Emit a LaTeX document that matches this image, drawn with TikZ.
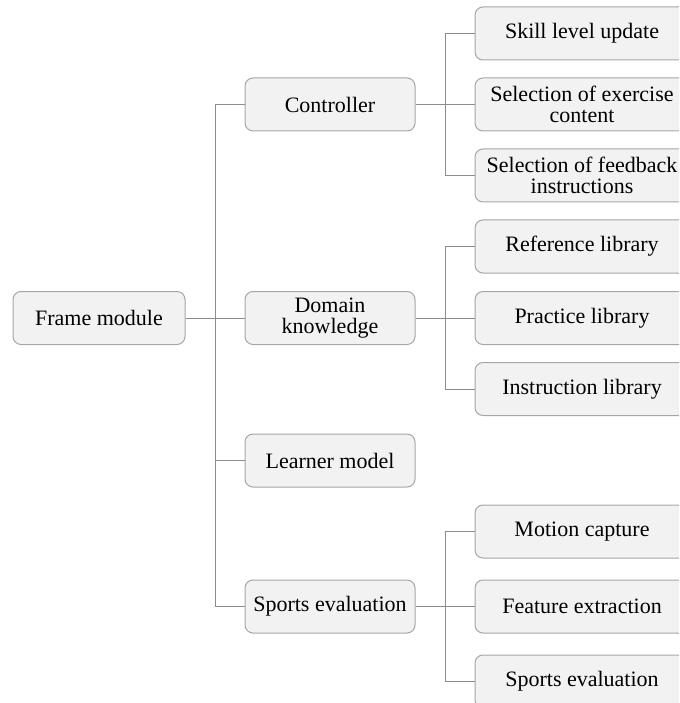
\documentclass[tikz,border=0pt]{standalone}
\usepackage{fontspec}
\setmainfont{Liberation Serif}
\definecolor{boxfill}{HTML}{F2F2F2}
\definecolor{boxline}{HTML}{A6A6A6}
\definecolor{linkline}{HTML}{8C8C8C}

\begin{document}
\begin{tikzpicture}[x=1pt,y=-1pt]
        \useasboundingbox (0,0) rectangle (679,703);
        \clip (0,0) rectangle (679,703);

        \begin{scope}[every node/.style={draw=boxline,fill=boxfill,rounded corners=8pt,line width=1pt,
                    align=center,inner sep=0pt,minimum height=53pt,font=\fontsize{22}{21}\selectfont}]
            \node[minimum width=172pt] (frame) at (99,318) {Frame module};

            \node[minimum width=170pt] (ctrl) at (330,104.5) {Controller};
            \node[minimum width=170pt] (dom) at (330,318) {Domain\\knowledge};
            \node[minimum width=170pt] (learn) at (330,460.5) {Learner model};
            \node[minimum width=170pt] (sport) at (330,606.5) {Sports evaluation};

            \node[minimum width=214pt] (ctrl1) at (582,33.5) {Skill level update};
            \node[minimum width=214pt] (ctrl2) at (582,104.5) {Selection of exercise\\content};
            \node[minimum width=214pt] (ctrl3) at (582,175.5) {Selection of feedback\\instructions};
            \node[minimum width=214pt] (dom1) at (582,246.5) {Reference library};
            \node[minimum width=214pt] (dom2) at (582,318) {Practice library};
            \node[minimum width=214pt] (dom3) at (582,389) {Instruction library};
            \node[minimum width=214pt] (sport1) at (582,531.5) {Motion capture};
            \node[minimum width=214pt] (sport2) at (582,606.5) {Feature extraction};
            \node[minimum width=214pt] (sport3) at (582,681.5) {Sports evaluation};
        \end{scope}

        \begin{scope}[every path/.style={draw=linkline,line width=0.9pt}]
            \path (frame.east) -- ++(30,0) |- (ctrl.west);
            \path (frame.east) -- (dom.west);
            \path (frame.east) -- ++(30,0) |- (learn.west);
            \path (frame.east) -- ++(30,0) |- (sport.west);

            \path (ctrl.east) -- ++(30,0) |- (ctrl1.west);
            \path (ctrl.east) -- (ctrl2.west);
            \path (ctrl.east) -- ++(30,0) |- (ctrl3.west);

            \path (dom.east) -- ++(30,0) |- (dom1.west);
            \path (dom.east) -- (dom2.west);
            \path (dom.east) -- ++(30,0) |- (dom3.west);

            \path (sport.east) -- ++(30,0) |- (sport1.west);
            \path (sport.east) -- (sport2.west);
            \path (sport.east) -- ++(30,0) |- (sport3.west);
        \end{scope}
    \end{tikzpicture}
\end{document}
